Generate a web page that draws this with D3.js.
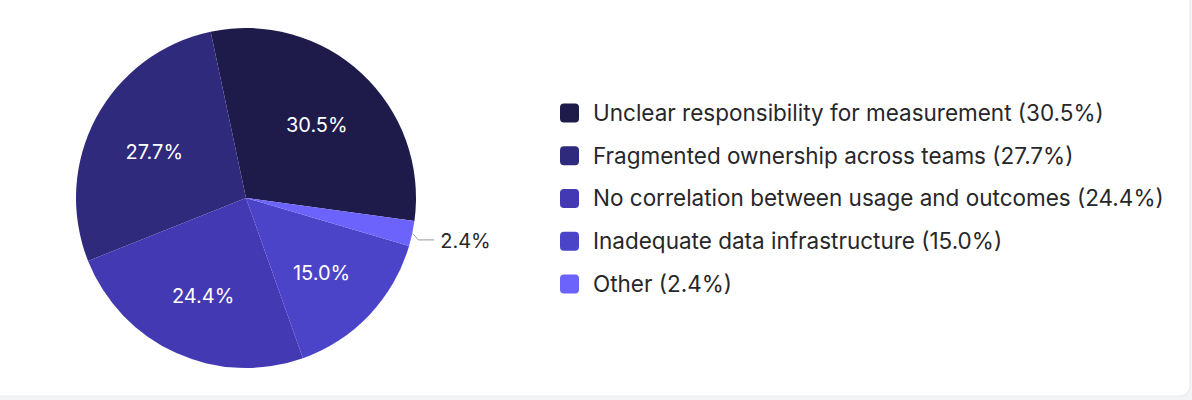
<!DOCTYPE html>
<html>
<head>
<meta charset="utf-8">
<script src="https://cdn.jsdelivr.net/npm/d3@7"></script>
<style>
  html, body { margin: 0; padding: 0; background: #f3f4f6; }
  svg { display: block; font-family: Inter, "Noto Sans", sans-serif; }
</style>
</head>
<body>
<svg id="chart"></svg>
<script>
// legend order
var categories = [
  "Unclear responsibility for measurement",
  "Fragmented ownership across teams",
  "No correlation between usage and outcomes",
  "Inadequate data infrastructure",
  "Other"
];
var values = [30.5, 27.7, 24.4, 15.0, 2.4];
var colors = ["#1e1b4b", "#2f2a7c", "#4239b3", "#4b44c9", "#6c63fc"];
// order the slices go round the pie, clockwise
var pieOrder = [
  "Unclear responsibility for measurement",
  "Other",
  "Inadequate data infrastructure",
  "No correlation between usage and outcomes",
  "Fragmented ownership across teams"
];
var outsideLabels = ["Other"];

var width = 1192, height = 400;
var cx = 246, cy = 198, radius = 170;

var data = categories.map((c, i) => ({ name: c, value: values[i] }));

var color = d3.scaleOrdinal().domain(categories).range(colors);

const svg = d3.select("#chart")
  .attr("width", width)
  .attr("height", height)
  .attr("viewBox", [0, 0, width, height]);

// card
svg.append("rect")
  .attr("x", -20)
  .attr("y", -20)
  .attr("width", 1190 + 20)
  .attr("height", 396 + 20)
  .attr("rx", 10)
  .attr("fill", "#fff")
  .attr("stroke", "#e8e9ee")
  .attr("stroke-width", 1);

var pie = d3.pie()
  .value(d => d.value)
  .sort((a, b) => pieOrder.indexOf(a.name) - pieOrder.indexOf(b.name))
  .startAngle(-12 * Math.PI / 180)
  .endAngle(348 * Math.PI / 180);

var arc = d3.arc().innerRadius(0).outerRadius(radius);
var labelArc = d3.arc().innerRadius(104).outerRadius(104);
var edgeArc = d3.arc().innerRadius(radius + 1).outerRadius(radius + 1);

var arcs = pie(data);

const g = svg.append("g")
  .attr("transform", `translate(${cx},${cy})`);

g.selectAll("path")
  .data(arcs)
  .join("path")
    .attr("d", arc)
    .attr("fill", d => color(d.data.name));

// inside labels
g.selectAll("text.inside")
  .data(arcs.filter(d => outsideLabels.indexOf(d.data.name) < 0))
  .join("text")
    .attr("class", "inside")
    .attr("transform", d => `translate(${labelArc.centroid(d)})`)
    .attr("text-anchor", "middle")
    .attr("y", 3)
    .attr("dy", "0.35em")
    .style("font-size", "20px")
    .attr("fill", "#fff")
    .text(d => d.value.toFixed(1) + "%");

// outside labels with leader line
var outs = arcs.filter(d => outsideLabels.indexOf(d.data.name) >= 0);
g.selectAll("polyline")
  .data(outs)
  .join("polyline")
    .attr("points", d => {
      var p0 = edgeArc.centroid(d);
      var p1 = [p0[0] + 5, p0[1] + 6];
      var p2 = [p1[0] + 16, p1[1]];
      return [p0, p1, p2].map(p => p.join(",")).join(" ");
    })
    .attr("fill", "none")
    .attr("stroke", "#9a9aa2")
    .attr("stroke-width", 1);

g.selectAll("text.outside")
  .data(outs)
  .join("text")
    .attr("class", "outside")
    .attr("x", d => edgeArc.centroid(d)[0] + 27)
    .attr("y", d => edgeArc.centroid(d)[1] + 7)
    .attr("dy", "0.35em")
    .style("font-size", "20px")
    .attr("fill", "#27272a")
    .text(d => d.value.toFixed(1) + "%");

// legend
var y = d3.scalePoint()
  .domain(categories)
  .range([113, 284]);

const legend = svg.append("g")
  .selectAll("g")
  .data(data)
  .join("g")
    .attr("transform", d => `translate(560,${y(d.name)})`);

legend.append("rect")
  .attr("x", 0)
  .attr("y", -9.5)
  .attr("width", 19)
  .attr("height", 19)
  .attr("rx", 4)
  .attr("fill", d => color(d.name));

legend.append("text")
  .attr("x", 33)
  .attr("dy", "0.35em")
  .style("font-size", "22.5px")
  .attr("fill", "#27272a")
  .text(d => `${d.name} (${d.value.toFixed(1)}%)`);
</script>
</body>
</html>
